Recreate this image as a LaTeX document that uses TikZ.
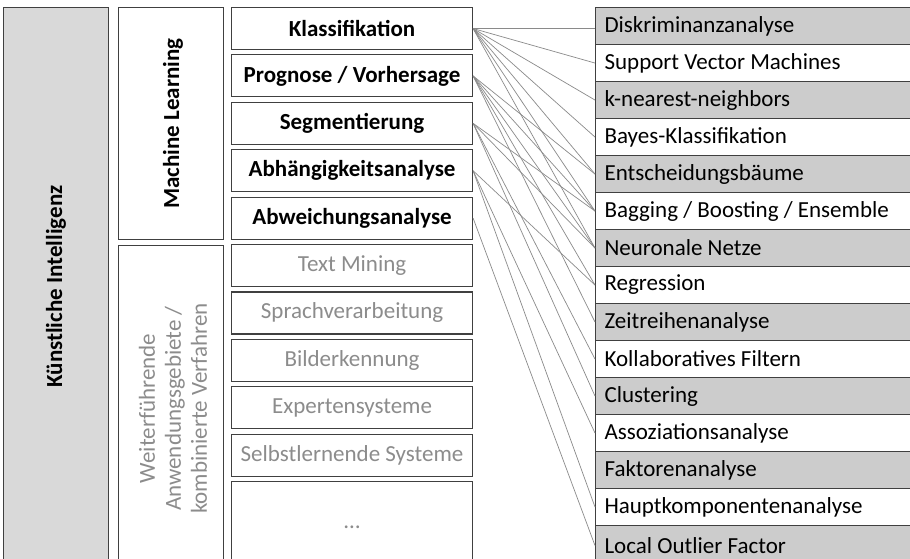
\documentclass[tikz,border=0pt]{standalone}
\usepackage{fontspec}
\setmainfont{Carlito}
\definecolor{bd}{HTML}{404040}
\definecolor{kigray}{HTML}{D9D9D9}
\definecolor{rowgray}{HTML}{CCCCCC}
\definecolor{txtgray}{HTML}{8C8C8C}
\definecolor{ln}{HTML}{8A8A8A}
\begin{document}
\begin{tikzpicture}[x=1pt,y=-1pt,
  fnt/.style={font=\fontsize{23}{26}\selectfont},
  fntb/.style={font=\fontsize{23}{26}\selectfont\bfseries},
  frame/.style={draw=bd, line width=1.1pt, inner sep=0pt, anchor=north west},
  midbox/.style={frame, fill=white, minimum width=241pt, minimum height=42pt, fnt},
  mlbox/.style={midbox, fntb},
  grbox/.style={midbox, text=txtgray},
  rowbox/.style={frame, minimum height=37pt, text width=312pt, inner xsep=9pt, align=flush left, fnt},
  grayrow/.style={rowbox, fill=rowgray},
  whiterow/.style={rowbox, fill=white},
  conn/.style={draw=ln, line width=0.7pt}
]
\clip (0,0) rectangle (910,559);
\fill[white] (0,0) rectangle (910,559);

% left column
\node[frame, fill=kigray, minimum width=105pt, minimum height=558pt] (ki) at (3,7) {};
\node[rotate=90, fntb] (kitxt) at (ki.center) {Künstliche Intelligenz};

% second column
\node[frame, fill=white, minimum width=105pt, minimum height=232pt] (ml) at (118,7) {};
\node[rotate=90, fntb] (mltxt) at ([xshift=2pt]ml.center) {Machine Learning};
\node[frame, fill=white, minimum width=105pt, minimum height=320pt] (wf) at (118,245) {};
\node[rotate=90, align=center, text=txtgray, fnt] (wftxt) at ([xshift=2pt,yshift=-3pt]wf.center) {Weiterführende\\Anwendungsgebiete /\\kombinierte Verfahren};

% middle column
\node[mlbox] (m0) at (231,7) {Klassifikation};
\node[mlbox] (m1) at (231,54.4) {Prognose / Vorhersage};
\node[mlbox] (m2) at (231,101.8) {Segmentierung};
\node[mlbox] (m3) at (231,149.2) {Abhängigkeitsanalyse};
\node[mlbox] (m4) at (231,196.6) {Abweichungsanalyse};
\node[grbox] (m5) at (231,244) {Text Mining};
\node[grbox] (m6) at (231,291.4) {Sprachverarbeitung};
\node[grbox] (m7) at (231,338.8) {Bilderkennung};
\node[grbox] (m8) at (231,386.2) {Expertensysteme};
\node[grbox] (m9) at (231,433.6) {Selbstlernende Systeme};
\node[grbox, minimum height=92pt] (m10) at (231,481) {\dots};

% right column
\node[grayrow]  (r0)  at (595,7)   {Diskriminanzanalyse};
\node[whiterow] (r1)  at (595,44)  {Support Vector Machines};
\node[grayrow]  (r2)  at (595,81)  {k-nearest-neighbors};
\node[whiterow] (r3)  at (595,118) {Bayes-Klassifikation};
\node[grayrow]  (r4)  at (595,155) {Entscheidungsbäume};
\node[whiterow] (r5)  at (595,192) {Bagging / Boosting / Ensemble};
\node[grayrow]  (r6)  at (595,229) {Neuronale Netze};
\node[whiterow] (r7)  at (595,266) {Regression};
\node[grayrow]  (r8)  at (595,303) {Zeitreihenanalyse};
\node[whiterow] (r9)  at (595,340) {Kollaboratives Filtern};
\node[grayrow]  (r10) at (595,377) {Clustering};
\node[whiterow] (r11) at (595,414) {Assoziationsanalyse};
\node[grayrow]  (r12) at (595,451) {Faktorenanalyse};
\node[whiterow] (r13) at (595,488) {Hauptkomponentenanalyse};
\node[grayrow, minimum height=40pt]  (r14) at (595,525) {Local Outlier Factor};

% connectors
\draw[conn] (m0.east) -- (m0.east -| r0.west);
\foreach \t in {1,2,3,4,5,6} \draw[conn] (m0.east) -- (r\t.west);
\foreach \t in {4,5,6,7,8} \draw[conn] (m1.east) -- (r\t.west);
\foreach \t in {5,6,9,10} \draw[conn] (m2.east) -- (r\t.west);
\foreach \t in {7,11,13} \draw[conn] (m3.east) -- (r\t.west);
\foreach \t in {14} \draw[conn] (m4.east) -- (r\t.west);
\end{tikzpicture}
\end{document}
